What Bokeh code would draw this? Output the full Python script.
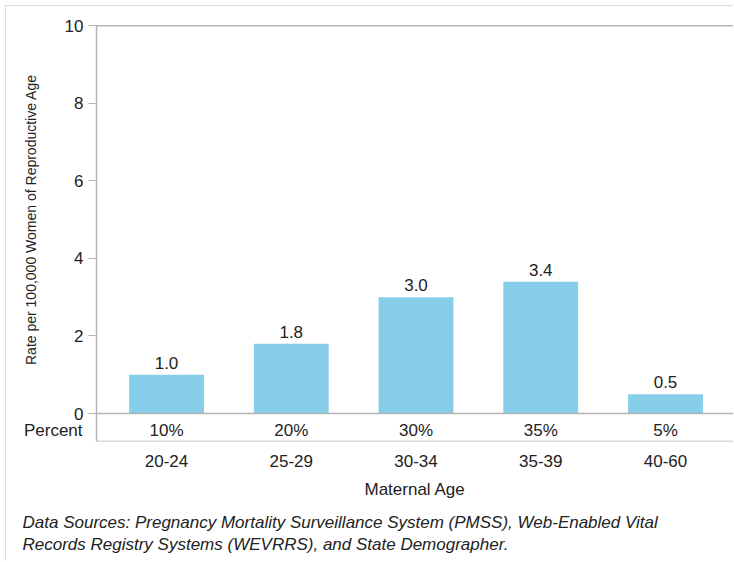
import math
from bokeh.plotting import figure
from bokeh.models import (Range1d, ColumnDataSource, FixedTicker, Label, Title)
from bokeh.core.properties import value
from bokeh.embed import file_html
from bokeh.resources import INLINE

categories = ["20-24", "25-29", "30-34", "35-39", "40-60"]
rates = [1.0, 1.8, 3.0, 3.4, 0.5]
percents = ["10%", "20%", "30%", "35%", "5%"]
y_ticks = [0, 2, 4, 6, 8, 10]
y_title = "Rate per 100,000 Women of Reproductive Age"
x_title = "Maternal Age"
row_label = "Percent"
source_lines = [
    "Data Sources: Pregnancy Mortality Surveillance System (PMSS), Web-Enabled Vital",
    "Records Registry Systems (WEVRRS), and State Demographer.",
]

FONT = "Liberation Sans"
FS = "17px"
TXT = "#222222"
GRID = "#b4b4b4"
ROW_Y = -0.44
Y_MIN, Y_TOP, Y_RANGE_MAX = -0.72, 10, 10.39
X_START, X_END = -1.2826, 4.553
AXIS_X = -0.561  # where the value axis sits (left edge of the plotted area)

idx = list(range(len(categories)))
n = len(categories)

src = ColumnDataSource(dict(
    x=idx, rate=rates, pct=percents,
    lab=[f"{v:.1f}" for v in rates],
    pct_y=[ROW_Y] * n,
))

p = figure(
    width=728, height=556,
    x_range=Range1d(X_START, X_END),
    y_range=Range1d(Y_MIN, Y_RANGE_MAX),
    output_backend="svg", toolbar_location=None,
    min_border_left=0, min_border_right=0, min_border_top=4, min_border_bottom=121,
)
p.outline_line_color = None
p.grid.grid_line_color = None
p.background_fill_color = "white"
p.styles = {"border-left": "1px solid #dddddd", "border-top": "1px solid #dddddd",
            "margin-left": "5px", "margin-top": "5px"}

p.vbar(x="x", top="rate", bottom=0, width=0.6, source=src,
       fill_color="#87CEEB", line_color=None)

p.text(x="x", y="rate", text="lab", source=src, y_offset=-6,
       text_align="center", text_baseline="bottom",
       text_font=value(FONT), text_font_size=FS, text_color=TXT)

p.text(x="x", y="pct_y", text="pct", source=src,
       text_align="center", text_baseline="middle",
       text_font=value(FONT), text_font_size=FS, text_color=TXT)

# horizontal frame lines: top, zero line, bottom of the percent row
p.segment(x0=[AXIS_X] * 3, x1=[X_END] * 3, y0=[Y_TOP, 0, Y_MIN], y1=[Y_TOP, 0, Y_MIN],
          line_color=GRID, line_width=1.5)

# value axis, fixed at the left edge of the plotted area
ya = p.yaxis[0]
ya.fixed_location = AXIS_X
ya.bounds = (Y_MIN, Y_TOP)
ya.ticker = FixedTicker(ticks=y_ticks)
ya.axis_line_color = GRID
ya.axis_line_width = 1.5
ya.major_tick_line_color = GRID
ya.major_tick_out = 8
ya.major_tick_in = 0
ya.minor_tick_line_color = None
ya.major_label_text_font = FONT
ya.major_label_text_font_size = FS
ya.major_label_text_color = TXT
ya.major_label_standoff = 5

p.add_layout(Label(x=AXIS_X, y=ROW_Y, x_offset=-14, text=row_label,
                   text_align="right", text_baseline="middle",
                   text_font=FONT, text_font_size=FS, text_color=TXT))
p.add_layout(Label(x=AXIS_X, y=(y_ticks[0] + y_ticks[-1]) / 2, x_offset=-66, text=y_title,
                   angle=math.pi / 2, text_align="center", text_baseline="middle",
                   text_font=FONT, text_font_size="14px", text_color=TXT))

# category axis
xa = p.xaxis[0]
xa.ticker = FixedTicker(ticks=idx)
xa.major_label_overrides = {i: c for i, c in zip(idx, categories)}
xa.axis_line_color = None
xa.major_tick_line_color = None
xa.minor_tick_line_color = None
xa.major_label_text_font = FONT
xa.major_label_text_font_size = FS
xa.major_label_text_color = TXT
xa.major_label_standoff = 7

# category-axis title, centred under the plotted area
p.add_layout(Title(text=x_title, align="left", offset=358, standoff=17,
                   text_font=FONT, text_font_size=FS, text_font_style="normal",
                   text_color=TXT), "below")

p.add_layout(Title(text="\n".join(source_lines), align="left", offset=16, standoff=8,
                   text_line_height=1.18,
                   text_font=FONT, text_font_size=FS, text_font_style="italic",
                   text_color=TXT), "below")

open("out.html", "w").write(file_html(p, INLINE))
